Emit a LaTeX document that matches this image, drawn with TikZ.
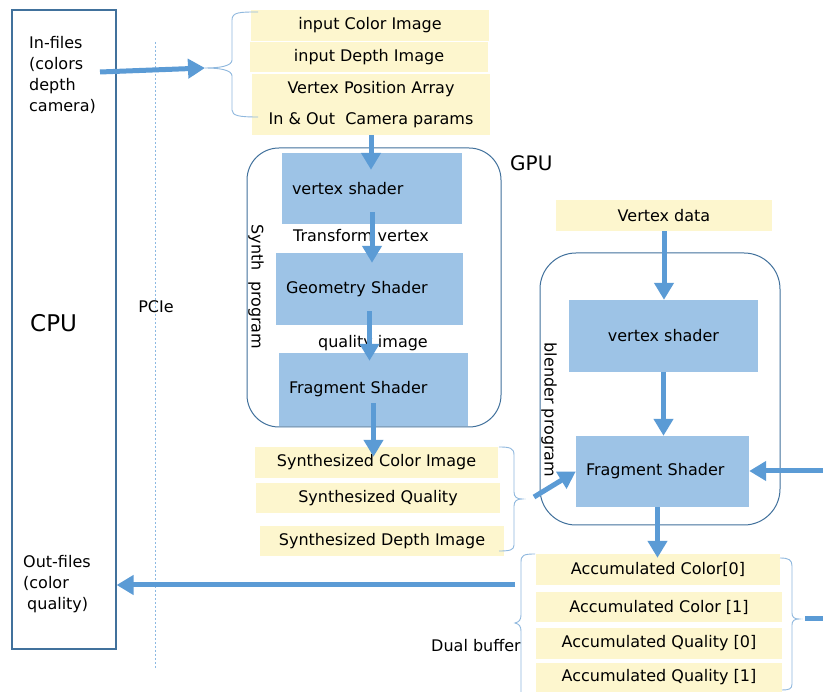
\documentclass[tikz,border=0pt]{standalone}
\usepackage{fontspec}
\setmainfont{DejaVu Sans}
\usetikzlibrary{arrows.meta,calc}
\definecolor{ybg}{HTML}{FDF6CE}
\definecolor{bfill}{HTML}{9DC3E6}
\definecolor{bord}{HTML}{41719C}
\definecolor{arrc}{HTML}{5B9BD5}
\definecolor{brcol}{HTML}{8FB8DE}
\begin{document}
\begin{tikzpicture}[x=1pt,y=-1pt,
  font=\fontsize{16}{19}\selectfont,
  ybox/.style={fill=ybg, draw=none, inner sep=0pt},
  bbox/.style={fill=bfill, draw=none, inner sep=0pt},
  lbox/.style={bbox, align=left, inner xsep=10pt},
  arr/.style={draw=arrc, line width=5pt, -{Triangle[length=17pt,width=19pt]}},
  bracepath/.style={draw=brcol, line width=0.9pt},
  prog/.style={draw=bord, line width=1pt, fill=white},
  txt/.style={inner sep=0pt}]
\useasboundingbox[fill=white] (0,0) rectangle (823,692);

% CPU box and dotted PCIe line
\node[draw=bord, line width=1.2pt, minimum width=104pt, minimum height=639pt, inner sep=0pt] (cpu) at (64,329.5) {};
\draw[draw=arrc!70, line width=0.8pt, dash pattern=on 2pt off 2pt] (155,42) -- (155,668);
\node[txt, anchor=north west, align=left, font=\fontsize{16}{21}\selectfont] (infiles) at (29,36) {In-files\\(colors\\depth\\camera)};
\node[txt, anchor=west, font=\fontsize{23}{26}\selectfont] (cpulbl) at (30,323) {CPU};
\node[txt, anchor=north west, align=left, font=\fontsize{16}{21}\selectfont] (outfiles) at (23,555) {Out-files\\(color\\\hspace{4pt}quality)};
\node[txt] (pcie) at (156,307) {PCIe};

% input boxes
\node[ybox, minimum width=238pt, minimum height=31pt] (ic) at (370,25.5) {input Color Image};
\node[ybox, minimum width=238pt, minimum height=30pt] (id) at (369,57) {input Depth Image};
\node[ybox, minimum width=238pt, minimum height=31pt] (vp) at (371,89.5) {Vertex Position Array};
\node[ybox, minimum width=238pt, minimum height=30pt] (cam) at (371,120) {In \& Out\ \ Camera params};
\coordinate (intip) at (205,68);
\draw[bracepath] (258,12) .. controls (240,12) and (232,12) .. (232,20) -- (232,60)
  .. controls (232,66) and (220,68) .. (intip) .. controls (220,68) and (232,70) .. (232,76)
  -- (232,110) .. controls (232,116) and (240,117) .. (258,117);
\coordinate (instart) at (100,72);
\draw[arr] (instart) -- (intip);

% synth program
\node[prog, rounded corners=32pt, minimum width=254pt, minimum height=279pt] (synth) at (374,287.5) {};
\node[txt, rotate=-90] (synthlbl) at (256,287) {Synth\ \ program};
\node[txt, anchor=west, font=\fontsize{20}{24}\selectfont] (gpu) at (510,163) {GPU};
\node[lbox, minimum width=180pt, minimum height=71pt, text width=160pt] (vs1) at (372,188.5) {vertex shader};
\node[lbox, minimum width=187pt, minimum height=72pt, text width=167pt] (geo) at (369.5,289) {Geometry Shader};
\node[lbox, minimum width=189pt, minimum height=73pt, text width=169pt] (frag1) at (373.5,389.5) {Fragment Shader};
\node[txt] (tv) at (361,236) {Transform vertex};
\node[txt] (qi) at (373,343) {quality image};

% synthesized outputs
\node[ybox, minimum width=243pt, minimum height=31pt] (sc) at (376.5,462.5) {Synthesized Color Image};
\node[ybox, minimum width=244pt, minimum height=30pt] (sq) at (378,498) {Synthesized Quality};
\node[ybox, minimum width=244pt, minimum height=30pt] (sd) at (382,541) {Synthesized Depth Image};
\coordinate (stip) at (522,499);
\draw[bracepath] (499,447) .. controls (510,447) and (514,448) .. (514,455) -- (514,492)
  .. controls (514,497) and (517,499) .. (stip) .. controls (517,499) and (514,501) .. (514,506)
  -- (514,545) .. controls (514,550) and (510,551) .. (499,551);

% blender program
\node[ybox, minimum width=216pt, minimum height=31pt] (vd) at (664,215.5) {Vertex data};
\node[prog, rounded corners=36pt, minimum width=240pt, minimum height=272pt] (blend) at (660,389) {};
\node[txt, rotate=-90] (blendlbl) at (549,410) {blender program};
\node[bbox, minimum width=189pt, minimum height=72pt] (vs2) at (663.5,336) {vertex shader};
\node[lbox, minimum width=173pt, minimum height=71pt, text width=153pt] (frag2) at (662.5,471.5) {Fragment Shader};

% accumulated buffers
\node[ybox, minimum width=244pt, minimum height=31pt] (ac0) at (658,569.5) {Accumulated Color[0]};
\node[ybox, minimum width=246pt, minimum height=30pt] (ac1) at (659,607) {Accumulated Color [1]};
\node[ybox, minimum width=246pt, minimum height=31pt] (aq0) at (659,643.5) {Accumulated Quality [0]};
\node[ybox, minimum width=246pt, minimum height=29pt] (aq1) at (659,677.5) {Accumulated Quality [1]};
\node[txt] (dual) at (476,646) {Dual buffer};
\draw[bracepath] (535,554) .. controls (524,554) and (521,555) .. (521,562) -- (521,615)
  .. controls (521,620) and (519,622) .. (515,623) .. controls (519,624) and (521,626) .. (521,631) -- (521,692);
\coordinate (atip) at (799,619);
\draw[bracepath] (780,558) .. controls (789,558) and (792,560) .. (792,566) -- (792,613)
  .. controls (792,617) and (794,619) .. (atip) .. controls (794,619) and (792,621) .. (792,625)
  -- (792,684) .. controls (792,689) and (789,690) .. (782,690);
\coordinate (astub) at (823,619);
\draw[draw=arrc, line width=5pt] (805,619) -- (astub);

% arrows
\draw[arr, shorten >=-17pt] (cam.south) -- (cam.south |- vs1.north);
\draw[arr, shorten <=-12pt, shorten >=-10pt] (vs1.south) -- (vs1.south |- geo.north);
\draw[arr, shorten <=-14pt, shorten >=-8pt] (geo.south) -- (geo.south |- frag1.north);
\draw[arr, shorten <=-23pt, shorten >=-10pt] (frag1.south) -- (frag1.south |- sc.north);
\draw[arr] (vd.south) -- (vd.south |- vs2.north);
\draw[arr] (vs2.south) -- (vs2.south |- frag2.north);
\coordinate (rin) at (823,471);
\draw[arr] (rin) -- (frag2.east |- rin);
\coordinate (sstart) at (534,497);
\draw[arr] (sstart) -- (frag2.west);
\draw[arr, shorten >=-4pt] ([xshift=-5pt]frag2.south) -- ([xshift=-5pt]frag2.south |- ac0.north);
\coordinate (outstart) at (515,585);
\draw[arr] (outstart) -- (cpu.east |- outstart);
\end{tikzpicture}
\end{document}
